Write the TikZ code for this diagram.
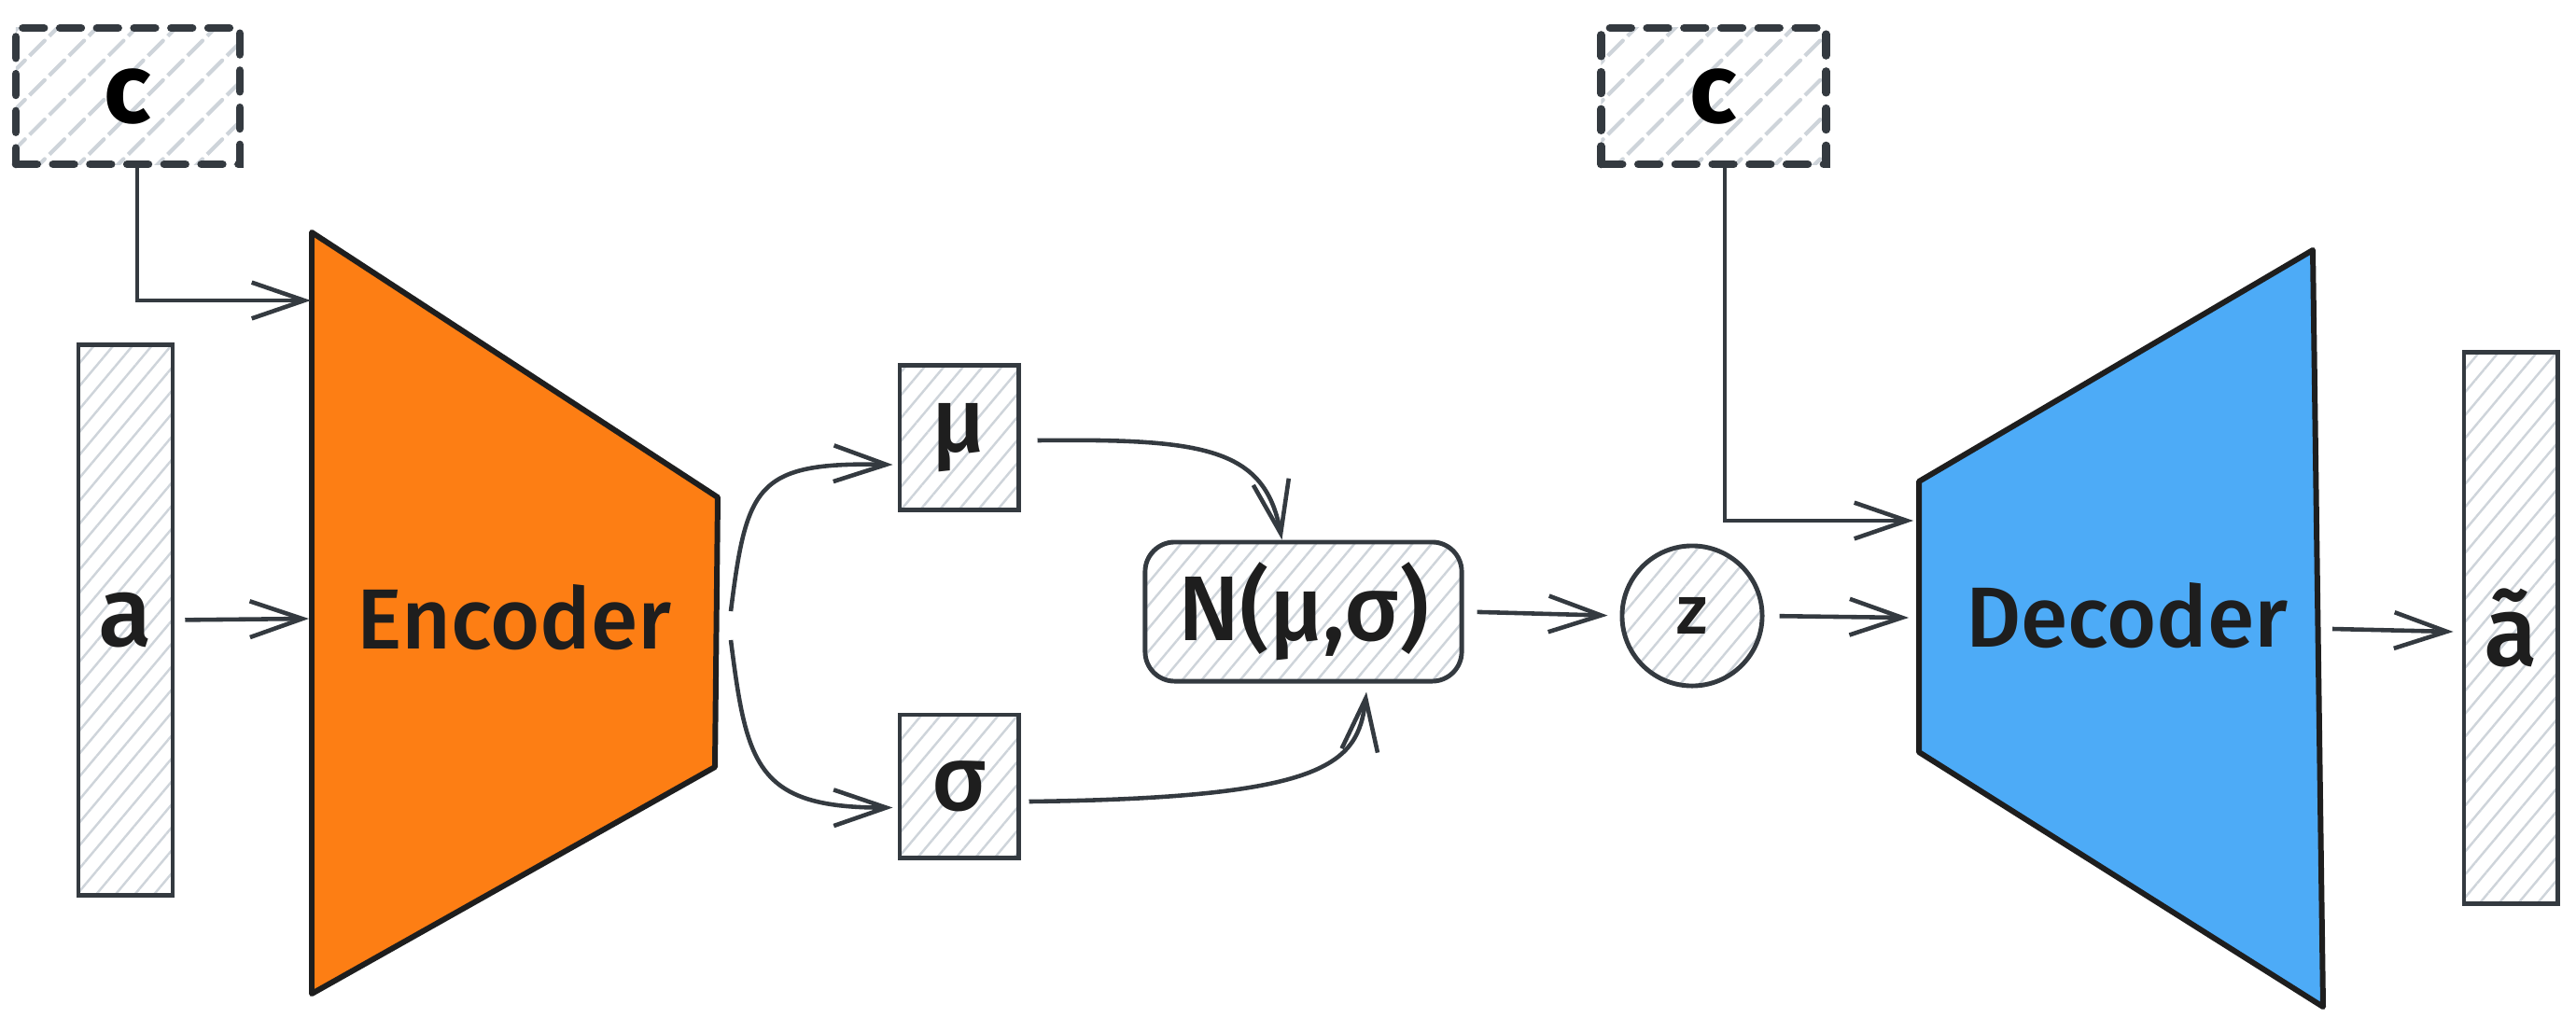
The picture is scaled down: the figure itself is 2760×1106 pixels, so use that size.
\documentclass[tikz,border=0pt]{standalone}
\usepackage{fontspec}
\setmainfont{Fira Sans}[UprightFont={* Medium}, BoldFont={* Bold}]
\usetikzlibrary{arrows.meta,patterns.meta}
\definecolor{strk}{HTML}{343A40}
\definecolor{ink}{HTML}{1E1E1E}
\definecolor{hatch}{HTML}{CED4DA}
\definecolor{encfill}{HTML}{FD7E14}
\definecolor{decfill}{HTML}{4DABF7}
\tikzset{
  hatchbox/.style={draw=strk, line width=1.4pt, inner sep=0pt,
    pattern={Lines[angle=50,distance=4.5pt,line width=0.7pt]}, pattern color=hatch},
  condbox/.style={draw=strk, line width=2.4pt, dash pattern=on 6.5pt off 4.8pt, line cap=round, inner sep=0pt,
    pattern={Lines[angle=45,distance=8.5pt,line width=1.2pt]}, pattern color=hatch},
  conn/.style={draw=strk, line width=1.3pt, -{Straight Barb[length=16pt,width=11pt,line width=1.3pt]}},
  netshape/.style={draw=ink, line width=1.7pt, line join=round},
  lbl/.style={text=ink, font=\fontsize{26}{30}\selectfont},
  sym/.style={text=ink, font=\fontsize{28}{32}\selectfont},
}
\begin{document}
\begin{tikzpicture}[x=0.01cm, y=-0.01cm]
\useasboundingbox (0,0) rectangle (2760,1106);

% condition boxes
\node[condbox, minimum width=2.40cm, minimum height=1.46cm] (cL) at (137,103) {\fontsize{30}{34}\selectfont\bfseries c};
\node[condbox, minimum width=2.41cm, minimum height=1.46cm] (cR) at (1836,103) {\fontsize{30}{34}\selectfont\bfseries c};

% input / output bars
\node[hatchbox, minimum width=1.01cm, minimum height=5.89cm, text=ink, font=\fontsize{30}{34}\selectfont] (a) at (134.5,664.5) {a};
\node[hatchbox, minimum width=1.00cm, minimum height=5.90cm, text=ink, font=\fontsize{30}{34}\selectfont] (at) at (2690,673) {ã};

% encoder
\coordinate (e1) at (334,249);
\coordinate (e2) at (769,533);
\coordinate (e3) at (766,822);
\coordinate (e4) at (334,1065);
\draw[netshape, fill=encfill] (e1) -- (e2) -- (e3) -- (e4) -- cycle;
\node[lbl] (enc) at (551,662) {Encoder};

% decoder
\coordinate (d1) at (2056,516);
\coordinate (d2) at (2478,268);
\coordinate (d3) at (2489,1079);
\coordinate (d4) at (2056,806);
\draw[netshape, fill=decfill] (d1) -- (d2) -- (d3) -- (d4) -- cycle;
\node[lbl] (dec) at (2279,660) {Decoder};

% latent nodes
\node[hatchbox, minimum width=1.27cm, minimum height=1.54cm, sym] (mu) at (1027.5,469) {μ};
\node[hatchbox, minimum width=1.27cm, minimum height=1.53cm, sym] (sg) at (1027.5,842.5) {σ};
\node[hatchbox, rounded corners=9pt, minimum width=3.39cm, minimum height=1.49cm, font=\fontsize{28}{32}\selectfont, text=ink] (N) at (1396.5,655.5) {N(μ,σ)};
\node[hatchbox, circle, minimum size=1.5cm, text=ink, font=\fontsize{21}{25}\selectfont] (z) at (1813,660) {z};

% connector end points
\coordinate (encInC) at (333,322);
\coordinate (encInA) at (331,663);
\coordinate (encOutM) at (783,655);
\coordinate (encOutS) at (783,686);
\coordinate (decInC) at (2050,558);
\coordinate (decInZ) at (2045,662);
\coordinate (decOut) at (2499,674);

% connectors
\draw[conn] ([xshift=0.1cm]cL.south) |- (encInC);
\draw[conn, shorten <=0.12cm] (a.east) -- (encInA);
\draw[conn] (encOutM) .. controls (800,520) and (810,495) .. ([yshift=-0.29cm, xshift=-0.05cm]mu.west);
\draw[conn] (encOutS) .. controls (800,820) and (810,866) .. ([yshift=-0.23cm, xshift=-0.05cm]sg.west);
\draw[conn] ([xshift=0.18cm, yshift=-0.03cm]mu.east) .. controls (1290,470) and (1355,480) .. ([xshift=-0.23cm]N.north);
\draw[conn] ([xshift=0.09cm, yshift=-0.165cm]sg.east) .. controls (1420,855) and (1455,820) .. ([xshift=0.675cm, yshift=-0.09cm]N.south);
\draw[conn, shorten <=0.14cm, shorten >=0.13cm] (N.east) -- (z.west);
\draw[conn, shorten <=0.16cm] (z.east) -- (decInZ);
\draw[conn] ([xshift=0.12cm]cR.south) |- (decInC);
\draw[conn] (decOut) -- ([yshift=-0.04cm, xshift=-0.09cm]at.west);
\end{tikzpicture}
\end{document}
